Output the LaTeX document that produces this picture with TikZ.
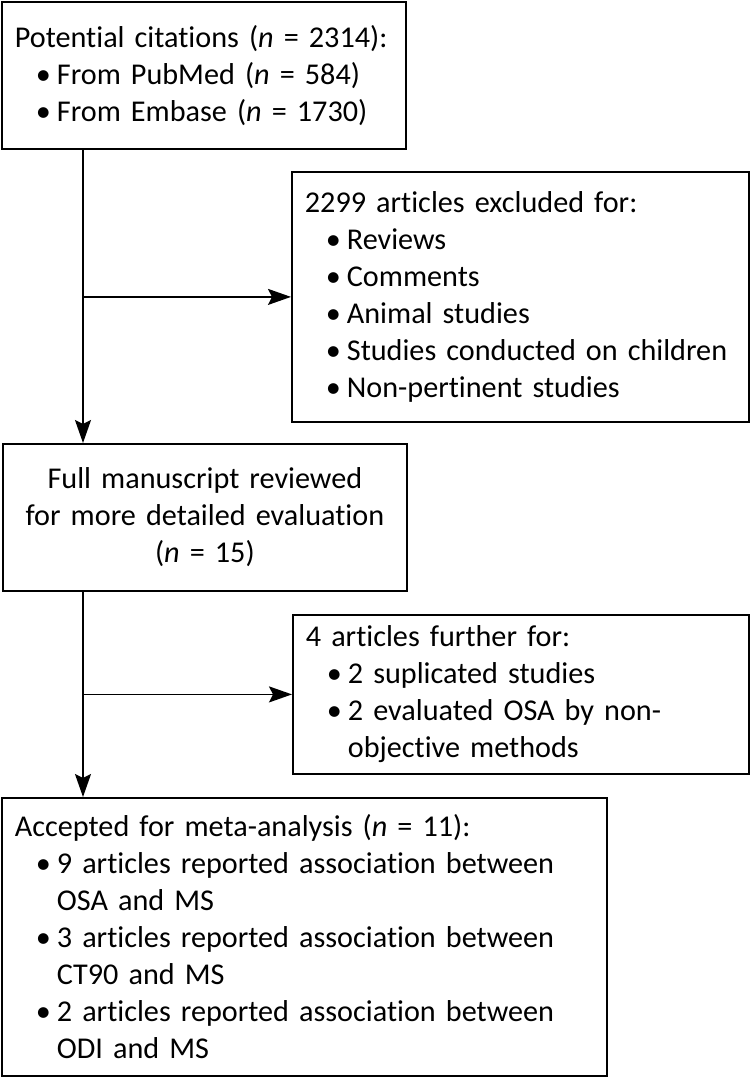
\documentclass[tikz,border=0pt]{standalone}
\usepackage{fontspec}
\setmainfont[Ligatures=NoCommon]{Carlito}
\usetikzlibrary{arrows.meta}
\newcommand{\bul}{\hspace*{21pt}\makebox[21pt][l]{\textbullet}}
\newcommand{\cont}{\hspace*{42pt}}

\begin{document}
\begin{tikzpicture}[x=1pt,y=-1pt,
  box/.style={draw,line width=1.8pt,anchor=north west,inner xsep=13pt,inner ysep=0pt,
    font=\fontsize{30.2}{37}\selectfont},
  arr/.style={line width=1.8pt,-{Stealth[length=23pt,width=16pt,inset=4pt]}}]
  \useasboundingbox (0,0) rectangle (750,1077);
  % boxes
  \node[box,text width=378pt,minimum height=147pt,align=left] (cite) at (1,1)
    {Potential citations (\textit{n} = 2314):\\
     \bul From PubMed (\textit{n} = 584)\\
     \bul From Embase (\textit{n} = 1730)};
  \node[box,text width=431pt,minimum height=250pt,align=left] (excl) at (291,171)
    {2299 articles excluded for:\\
     \bul Reviews\\
     \bul Comments\\
     \bul Animal studies\\
     \bul Studies conducted on children\\
     \bul Non-pertinent studies};
  \node[box,text width=378pt,minimum height=147pt,align=center] (full) at (2,443)
    {Full manuscript reviewed\\
     for more detailed evaluation\\
     (\textit{n} = 15)};
  \node[box,text width=430pt,minimum height=159pt,align=left] (further) at (292,614)
    {4 articles further for:\\
     \bul 2 suplicated studies\\
     \bul 2 evaluated OSA by non-\\
     \cont objective methods};
  \node[box,text width=579pt,minimum height=278pt,align=left] (accepted) at (1,797)
    {Accepted for meta-analysis (\textit{n} = 11):\\
     \bul 9 articles reported association between\\
     \cont OSA and MS\\
     \bul 3 articles reported association between\\
     \cont CT90 and MS\\
     \bul 2 articles reported association between\\
     \cont ODI and MS};
  % connectors
  \coordinate (trunk) at (83,0);
  \draw[arr] (cite.south -| trunk) -- (full.north -| trunk);
  \draw[arr] (trunk |- excl.west) -- (excl.west);
  \draw[arr] (full.south -| trunk) -- (accepted.north -| trunk);
  \draw[arr] (trunk |- further.west) -- (further.west);
\end{tikzpicture}
\end{document}
